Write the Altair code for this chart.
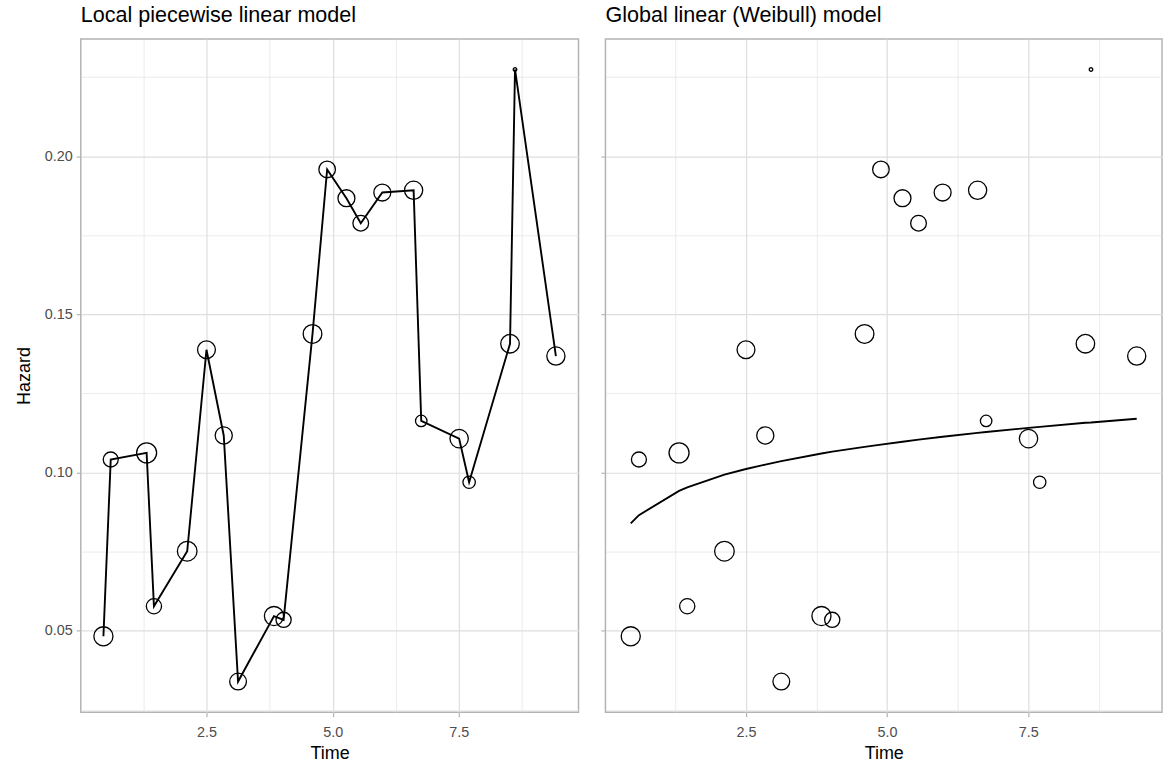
import altair as alt
import pandas as pd

FONT = "Liberation Sans"

# Observed interval hazards, one per interval midpoint
time = [0.458, 0.603, 1.314, 1.459, 2.118, 2.500, 2.842, 3.126, 3.837, 4.028, 4.601,
        4.891, 5.273, 5.557, 5.984, 6.604, 6.755, 7.506, 7.704, 8.514, 8.613, 9.423]
hazard = [0.0482, 0.1041, 0.1062, 0.0577, 0.0751, 0.1388, 0.1117, 0.0339, 0.0546, 0.0534, 0.1438,
          0.1958, 0.1867, 0.1788, 0.1885, 0.1892, 0.1163, 0.1107, 0.0969, 0.1407, 0.2274, 0.1368]
# Relative weight of each interval (drives symbol area)
weight = [117, 72, 128, 74, 123, 102, 94, 90, 117, 74, 112,
          88, 92, 79, 92, 106, 42, 108, 49, 110, 4, 106]
# Fitted Weibull hazard at the same times
weibull_hazard = [0.0839, 0.0865, 0.0942, 0.0953, 0.0993, 0.1011, 0.1025, 0.1036, 0.1060, 0.1066, 0.1081,
                  0.1088, 0.1097, 0.1104, 0.1113, 0.1125, 0.1128, 0.1141, 0.1144, 0.1157, 0.1158, 0.1170]

x_grid = [1.25, 2.5, 3.75, 5.0, 6.25, 7.5, 8.75]
y_grid = [0.025, 0.05, 0.075, 0.10, 0.125, 0.15, 0.175, 0.20, 0.225]

df = pd.DataFrame({"time": time, "hazard": hazard, "weight": weight, "weibull": weibull_hazard})

# ggplot-style 5% expansion of the data range
def expand(vals, mult=0.05):
    lo, hi = min(vals), max(vals)
    pad = (hi - lo) * mult
    return [lo - pad, hi + pad]

x_dom = expand(time)
y_dom = expand(hazard)

MAJOR_X = "abs(datum.value / 2.5 - round(datum.value / 2.5)) < 0.01"
MAJOR_Y = "abs(datum.value / 0.05 - round(datum.value / 0.05)) < 0.01"


def x_axis():
    return alt.Axis(
        values=x_grid, title="Time",
        labelExpr=f"({MAJOR_X}) ? format(datum.value, '.1f') : ''",
        labelOverlap=False, labelFlush=False,
        tickOpacity={"condition": {"test": MAJOR_X, "value": 1}, "value": 0},
        gridWidth={"condition": {"test": MAJOR_X, "value": 1.2}, "value": 0.6},
    )


def y_axis(show_labels):
    kw = dict(
        values=y_grid,
        tickOpacity={"condition": {"test": MAJOR_Y, "value": 1}, "value": 0},
        gridWidth={"condition": {"test": MAJOR_Y, "value": 1.2}, "value": 0.6},
        labelOverlap=False, labelFlush=False,
    )
    if show_labels:
        kw.update(title="Hazard", labelExpr=f"({MAJOR_Y}) ? format(datum.value, '.2f') : ''")
    else:
        kw.update(title=None, labels=False)
    return alt.Axis(**kw)


size_enc = alt.Size("weight:Q", legend=None,
                    scale=alt.Scale(domain=[0, max(weight)], range=[0, max(weight) * 3.1416]))


def panel(title, curve_field, show_y_labels, width):
    x_enc = alt.X("time:Q", scale=alt.Scale(domain=x_dom, nice=False, zero=False), axis=x_axis())
    y_scale = alt.Scale(domain=y_dom, nice=False, zero=False)
    y_ax = y_axis(show_y_labels)
    base = alt.Chart(df)
    pts = base.mark_point(shape="circle", filled=False, color="black", strokeWidth=1.3, opacity=1).encode(
        x=x_enc,
        y=alt.Y("hazard:Q", scale=y_scale, axis=y_ax),
        size=size_enc,
    )
    line = base.mark_line(color="black", strokeWidth=1.9).encode(
        x=x_enc,
        y=alt.Y(f"{curve_field}:Q", scale=y_scale, axis=y_ax),
        order="time:Q",
    )
    return alt.layer(pts, line).properties(
        width=width, height=675,
        title=alt.TitleParams(title, anchor="start", frame="group", fontSize=21.6,
                              fontWeight="normal", font=FONT, color="black", offset=12),
    )


left = panel("Local piecewise linear model", "hazard", True, 499)
right = panel("Global linear (Weibull) model", "weibull", False, 558)

chart = alt.hconcat(left, right, spacing=20).properties(
    padding={"left": 14, "top": 3, "right": 5, "bottom": 2}
).configure_view(
    stroke="#B3B3B3", strokeWidth=1.5
).configure_axis(
    domain=False,
    gridColor="#DEDEDE",
    tickColor="#B3B3B3", tickSize=4.5, tickWidth=1.2,
    labelColor="#4D4D4D", labelFont=FONT, labelFontSize=14.4, labelPadding=4,
    titleFont=FONT, titleFontSize=18, titleFontWeight="normal", titleColor="black",
    titlePadding=6,
).configure_axisX(labelPadding=9).configure_axisY(titlePadding=11)

chart.save("out.html", embed_options={"renderer": "svg", "actions": False})
